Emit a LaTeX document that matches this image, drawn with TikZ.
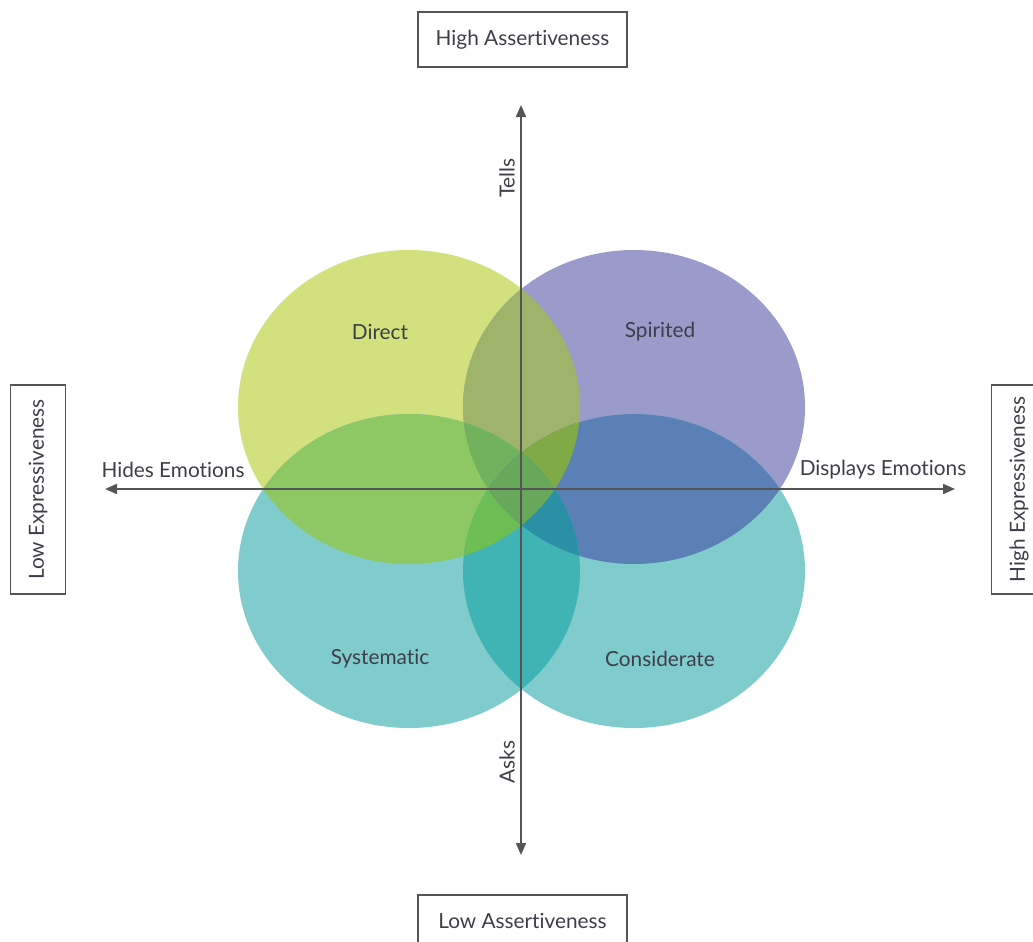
\documentclass[tikz,border=0pt]{standalone}
\usepackage{fontspec}
\setmainfont[Ligatures={NoCommon,NoRare}]{Lato}
\usepackage{tikz}
\usetikzlibrary{arrows.meta}

\definecolor{axisgray}{HTML}{555555}
\definecolor{textgray}{HTML}{3E3E48}
\definecolor{directfill}{HTML}{D2E17E}
\definecolor{spiritfill}{HTML}{9A9ACB}
\definecolor{tealfill}{HTML}{80CCCC}
\definecolor{dsfill}{HTML}{9FB46B}
\definecolor{dyfill}{HTML}{8DC865}
\definecolor{scfill}{HTML}{5A80B5}
\definecolor{ycfill}{HTML}{40B4B4}
\definecolor{dsyfill}{HTML}{71B25C}
\definecolor{dscfill}{HTML}{80AA45}
\definecolor{dycfill}{HTML}{6CBE55}
\definecolor{sycfill}{HTML}{2B8FA6}
\definecolor{allfill}{HTML}{68A85B}

% the four styles, as ellipse paths
\newcommand\elldirect{(409,407) ellipse [x radius=85.5pt, y radius=78.5pt]}
\newcommand\ellspirit{(634,407) ellipse [x radius=85.5pt, y radius=78.5pt]}
\newcommand\ellsystem{(409,571) ellipse [x radius=85.5pt, y radius=78.5pt]}
\newcommand\ellconsid{(634,571) ellipse [x radius=85.5pt, y radius=78.5pt]}

\begin{document}
\begin{tikzpicture}[x=0.5pt,y=-0.5pt,
  font=\fontsize{10.4}{12}\selectfont, text=textgray,
  axis/.style={line width=1pt, draw=axisgray, {Triangle[length=6pt,width=5pt]}-{Triangle[length=6pt,width=5pt]}},
  endbox/.style={draw=axisgray, line width=0.8pt, minimum width=104.5pt, minimum height=27.5pt, inner sep=0pt}]
  \useasboundingbox (0,0) rectangle (1033,942);
  \clip (0,0) rectangle (1033,942);

  % plain fills
  \fill[directfill] \elldirect;
  \fill[spiritfill] \ellspirit;
  \fill[tealfill] \ellsystem;
  \fill[tealfill] \ellconsid;

  % pairs
  \begin{scope} \clip \elldirect; \fill[dsfill] \ellspirit; \end{scope}
  \begin{scope} \clip \elldirect; \fill[dyfill] \ellsystem; \end{scope}
  \begin{scope} \clip \ellspirit; \fill[scfill] \ellconsid; \end{scope}
  \begin{scope} \clip \ellsystem; \fill[ycfill] \ellconsid; \end{scope}

  % triples and the middle
  \begin{scope} \clip \elldirect; \clip \ellspirit; \fill[dsyfill] \ellsystem; \end{scope}
  \begin{scope} \clip \elldirect; \clip \ellspirit; \fill[dscfill] \ellconsid; \end{scope}
  \begin{scope} \clip \elldirect; \clip \ellsystem; \fill[dycfill] \ellconsid; \end{scope}
  \begin{scope} \clip \ellspirit; \clip \ellsystem; \fill[sycfill] \ellconsid; \end{scope}
  \begin{scope} \clip \elldirect; \clip \ellspirit; \clip \ellsystem; \fill[allfill] \ellconsid; \end{scope}

  \node (direct) at (380,332) {Direct};
  \node (spirited) at (660,332) {Spirited};
  \node (systematic) at (380,659) {Systematic};
  \node (considerate) at (660,659) {Considerate};

  % axes
  \coordinate (west) at (105,489);
  \coordinate (east) at (955,489);
  \coordinate (north) at (521,105);
  \coordinate (south) at (521,855);
  \draw[axis] (west) -- (east);
  \draw[axis] (south) -- (north);

  \node[rotate=90] (tells) at (507,178) {Tells};
  \node[rotate=90] (asks) at (507,762) {Asks};
  \node (hides) at (173,470) {Hides Emotions};
  \node (displays) at (883,470) {Displays Emotions};

  \node[endbox] (highA) at (522.5,39.5) {High Assertiveness};
  \node[endbox] (lowA) at (522.5,922.5) {\raisebox{2pt}{Low Assertiveness}};
  \node[endbox, rotate=90] (lowE) at (38,489.5) {Low Expressiveness};
  \node[endbox, rotate=90] (highE) at (1019,489.5) {High Expressiveness};
\end{tikzpicture}
\end{document}
